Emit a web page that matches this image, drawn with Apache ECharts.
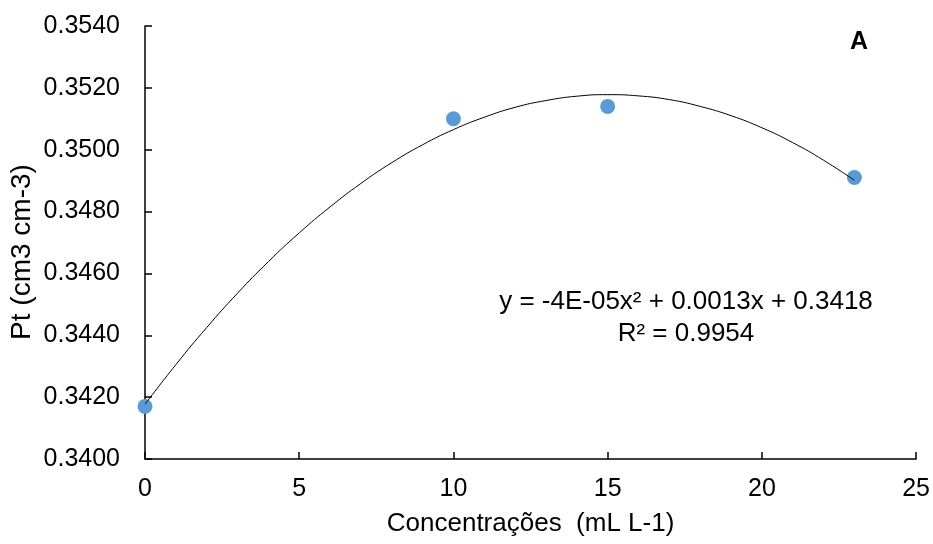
<!DOCTYPE html>
<html>
<head>
<meta charset="utf-8">
<script src="https://cdn.jsdelivr.net/npm/echarts@6/dist/echarts.min.js"></script>
<style>html,body{margin:0;padding:0;background:#fff}#c{width:933px;height:544px}</style>
</head>
<body>
<div id="c"></div>
<script>
// Observed points
var concX = [0, 10, 15, 23];
var ptY = [0.3417, 0.3510, 0.3514, 0.3491];
// Trendline
var trendX = [0, 1, 2, 3, 4, 5, 6, 7, 8, 9, 10, 11, 12, 13, 14, 15, 16, 17, 18, 19, 20, 21, 22, 23];
var trendY = [0.34177, 0.34305, 0.34425, 0.34536, 0.34638, 0.34731, 0.34815, 0.34891, 0.34958, 0.35016,
              0.35065, 0.35105, 0.35137, 0.35159, 0.35173, 0.35178, 0.35174, 0.35162, 0.35140, 0.35110,
              0.35071, 0.35023, 0.34966, 0.34901];
var yTicks = ['0.3400','0.3420','0.3440','0.3460','0.3480','0.3500','0.3520','0.3540'];
var xTitle = 'Concentrações  (mL L-1)';
var yTitle = 'Pt (cm3 cm-3)';
var eqText = 'y = -4E-05x² + 0.0013x + 0.3418';
var r2Text = 'R² = 0.9954';
var panel = 'A';

var font = '"Liberation Sans", Arial, sans-serif';
var chart = echarts.init(document.getElementById('c'));
chart.setOption({
  animation: false,
  grid: {left: 145, right: 16, top: 26, bottom: 85},
  xAxis: {
    type: 'value', min: 0, max: 25, interval: 5,
    name: xTitle, nameLocation: 'middle', nameGap: 52,
    nameTextStyle: {fontFamily: font, fontSize: 26, color: '#000'},
    axisLine: {lineStyle: {color: '#000', width: 1.5}},
    axisTick: {inside: true, length: 7, lineStyle: {color: '#000', width: 1.5}},
    axisLabel: {fontFamily: font, fontSize: 25, color: '#000', margin: 18},
    splitLine: {show: false}
  },
  yAxis: {
    type: 'value', min: 0.34, max: 0.354, interval: 0.002,
    axisLine: {show: true, lineStyle: {color: '#000', width: 1.5}},
    axisTick: {show: true, inside: true, length: 7, lineStyle: {color: '#000', width: 1.5}},
    axisLabel: {fontFamily: font, fontSize: 25, color: '#000', margin: 25,
      formatter: function (v) { var i = Math.round((v - 0.34) / 0.002); return yTicks[i] !== undefined ? yTicks[i] : v.toFixed(4); }},
    splitLine: {show: false}
  },
  series: [
    {
      type: 'line', smooth: true, symbol: 'none', silent: true,
      data: trendX.map(function (x, i) { return [x, trendY[i]]; }),
      lineStyle: {color: '#000', width: 1}, z: 3
    },
    {
      type: 'scatter', symbolSize: 15,
      data: concX.map(function (x, i) { return [x, ptY[i]]; }),
      itemStyle: {color: '#5B9BD5', opacity: 1}, z: 2
    }
  ],
  graphic: [
    {type: 'text', x: 22, y: 252, rotation: Math.PI / 2, style: {text: yTitle, font: '28px ' + font, fill: '#000', align: 'center', verticalAlign: 'middle'}},
    {type: 'text', x: 686, y: 302, style: {text: eqText, font: '26px ' + font, fill: '#000', align: 'center', verticalAlign: 'middle'}},
    {type: 'text', x: 686, y: 334, style: {text: r2Text, font: '26px ' + font, fill: '#000', align: 'center', verticalAlign: 'middle'}},
    {type: 'text', x: 859, y: 42, style: {text: panel, font: 'bold 25px ' + font, fill: '#000', align: 'center', verticalAlign: 'middle'}}
  ]
});
</script>
</body>
</html>
